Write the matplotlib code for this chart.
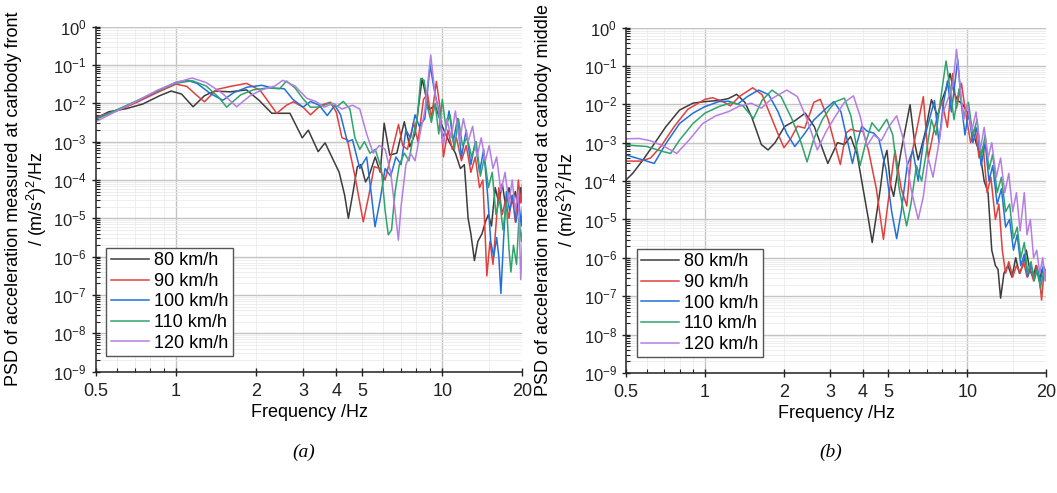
import numpy as np
import matplotlib
matplotlib.use("Agg")
import matplotlib.pyplot as plt
from matplotlib.ticker import FixedLocator, LogLocator, NullFormatter, FixedFormatter

plt.rcParams['font.family'] = ['Liberation Sans', 'DejaVu Sans']
plt.rcParams['mathtext.default'] = 'regular'

speeds = ['80 km/h', '90 km/h', '100 km/h', '110 km/h', '120 km/h']
colors = ['#3c3c3c', '#e0403e', '#2270d8', '#2fa36c', '#b57ee2']

# (frequency Hz, log10 PSD) -- carbody front
front_80 = [(0.5, -2.39), (0.56, -2.22), (0.65, -2.14), (0.75, -2.02), (0.87, -1.80), (0.96, -1.68),
            (1.05, -1.76), (1.16, -2.09), (1.28, -1.80), (1.4, -1.68), (1.6, -1.70), (1.84, -1.65),
            (2.05, -1.92), (2.29, -2.26), (2.68, -2.26), (2.98, -2.90), (3.14, -2.70), (3.42, -3.26),
            (3.63, -3.03), (4.1, -3.80), (4.3, -4.40), (4.44, -5.00), (4.6, -4.40), (4.8, -3.65),
            (4.95, -3.60), (5.15, -4.05), (5.3, -3.90), (5.6, -3.40), (5.85, -3.80), (6.05, -2.52),
            (6.35, -3.35), (6.75, -3.30), (7.2, -2.48), (7.55, -3.13), (7.9, -2.80), (8.4, -1.35),
            (8.9, -2.17), (9.4, -2.05), (10.0, -2.60), (10.6, -3.00), (11.2, -3.30), (11.7, -3.70),
            (12.1, -3.60), (12.5, -5.00), (12.8, -5.40), (13.2, -6.10), (13.6, -5.60), (14.1, -5.40),
            (14.5, -5.10), (14.9, -4.90), (15.3, -5.20), (15.8, -4.20), (16.3, -4.60), (16.8, -4.10),
            (17.3, -4.70), (17.8, -4.20), (18.3, -4.60), (18.8, -4.30), (19.3, -4.80), (19.7, -4.20),
            (20.0, -4.60)]
front_90 = [(0.5, -2.36), (0.6, -2.20), (0.71, -1.98), (0.85, -1.72), (1.0, -1.50), (1.1, -1.56),
            (1.2, -1.80), (1.28, -1.96), (1.42, -1.64), (1.6, -1.56), (1.84, -1.48), (2.07, -1.66),
            (2.39, -2.26), (2.6, -2.05), (2.76, -1.96), (3.0, -2.10), (3.2, -2.30), (3.5, -2.05),
            (3.8, -1.97), (4.0, -2.23), (4.2, -2.90), (4.4, -2.95), (4.7, -3.90), (5.05, -5.09),
            (5.3, -4.40), (5.55, -3.65), (5.8, -3.70), (6.1, -4.00), (6.4, -3.40), (6.85, -2.55),
            (7.1, -3.10), (7.4, -3.20), (7.8, -2.50), (8.1, -3.00), (8.5, -1.90), (8.8, -1.75),
            (9.1, -2.40), (9.5, -1.43), (9.8, -2.10), (10.1, -3.40), (10.5, -2.70), (10.9, -3.20),
            (11.3, -2.90), (11.8, -3.50), (12.3, -3.10), (12.8, -3.80), (13.3, -3.40), (13.8, -4.20),
            (14.2, -4.00), (14.7, -6.50), (15.1, -5.60), (15.5, -6.20), (15.9, -5.20), (16.3, -4.20),
            (16.8, -4.90), (17.3, -4.50), (17.8, -5.00), (18.3, -4.40), (18.8, -5.10), (19.3, -4.00),
            (19.7, -4.60), (20.0, -4.10)]
front_100 = [(0.5, -2.40), (0.6, -2.18), (0.72, -1.93), (0.85, -1.68), (1.0, -1.45), (1.1, -1.40),
             (1.2, -1.48), (1.35, -1.75), (1.5, -1.92), (1.65, -1.72), (1.85, -1.58), (2.1, -1.53),
             (2.3, -1.60), (2.55, -1.62), (2.75, -1.90), (3.0, -2.10), (3.2, -1.95), (3.45, -2.05),
             (3.7, -2.32), (3.95, -2.05), (4.15, -2.30), (4.4, -3.00), (4.6, -2.95), (4.9, -3.70),
             (5.2, -3.40), (5.4, -4.30), (5.59, -5.22), (5.85, -4.50), (6.1, -3.70), (6.4, -3.90),
             (6.7, -3.40), (7.0, -3.60), (7.3, -2.70), (7.6, -2.90), (7.9, -2.30), (8.2, -2.60),
             (8.6, -2.40), (9.0, -1.00), (9.3, -1.60), (9.7, -2.20), (10.0, -2.90), (10.3, -2.70),
             (10.6, -2.20), (11.0, -3.00), (11.4, -2.40), (11.8, -3.40), (12.3, -2.70), (12.8, -3.60),
             (13.3, -3.00), (13.8, -3.80), (14.3, -3.20), (14.8, -4.40), (15.2, -5.60), (15.6, -6.00),
             (16.0, -5.50), (16.3, -6.00), (16.6, -6.96), (17.0, -5.50), (17.4, -4.30), (17.9, -4.80),
             (18.4, -4.40), (18.9, -5.10), (19.4, -4.60), (19.8, -5.20), (20.0, -4.70)]
front_110 = [(0.5, -2.42), (0.6, -2.17), (0.72, -1.92), (0.85, -1.68), (1.0, -1.48), (1.15, -1.41),
             (1.3, -1.55), (1.45, -1.85), (1.55, -2.10), (1.75, -1.78), (1.95, -1.65), (2.2, -1.60),
             (2.45, -1.62), (2.6, -1.42), (2.8, -1.60), (3.0, -1.88), (3.2, -2.10), (3.45, -2.10),
             (3.75, -2.00), (4.0, -2.10), (4.25, -1.95), (4.5, -2.15), (4.7, -2.90), (4.9, -3.20),
             (5.1, -3.00), (5.35, -3.30), (5.6, -3.20), (5.9, -3.70), (6.1, -4.80), (6.27, -5.43),
             (6.45, -5.30), (6.65, -4.30), (6.9, -3.60), (7.2, -3.30), (7.5, -3.50), (7.8, -2.80),
             (8.05, -2.40), (8.3, -1.35), (8.55, -1.40), (8.8, -2.10), (9.1, -2.50), (9.4, -2.00),
             (9.7, -2.80), (10.0, -1.90), (10.3, -2.60), (10.7, -2.30), (11.1, -3.20), (11.5, -2.40),
             (11.9, -3.10), (12.4, -2.90), (12.9, -3.40), (13.4, -3.00), (13.9, -3.90), (14.4, -3.40),
             (14.9, -4.20), (15.4, -3.80), (15.9, -4.90), (16.4, -4.50), (16.9, -5.30), (17.4, -4.60),
             (17.8, -5.80), (18.1, -6.40), (18.5, -5.70), (19.0, -6.20), (19.4, -5.00), (19.8, -5.60),
             (20.0, -5.30)]
front_120 = [(0.5, -2.48), (0.6, -2.20), (0.72, -1.93), (0.85, -1.66), (1.0, -1.46), (1.15, -1.34),
             (1.3, -1.46), (1.5, -1.75), (1.69, -2.09), (1.9, -1.80), (2.1, -1.65), (2.35, -1.55),
             (2.52, -1.40), (2.8, -1.55), (3.1, -1.87), (3.35, -1.95), (3.6, -2.10), (3.9, -2.00),
             (4.2, -2.15), (4.6, -2.05), (4.9, -2.15), (5.2, -2.80), (5.5, -3.30), (5.8, -3.10),
             (6.1, -3.20), (6.4, -3.80), (6.65, -4.80), (6.84, -5.57), (7.0, -4.70), (7.3, -3.60),
             (7.6, -3.30), (7.9, -3.50), (8.3, -2.70), (8.6, -2.20), (9.05, -0.74), (9.4, -1.80),
             (9.8, -2.40), (10.1, -3.10), (10.4, -2.40), (10.8, -2.90), (11.2, -2.20), (11.6, -3.00),
             (12.0, -2.40), (12.5, -3.00), (13.0, -2.60), (13.5, -3.40), (14.0, -2.90), (14.5, -3.50),
             (15.0, -3.10), (15.5, -3.70), (16.0, -3.40), (16.6, -4.30), (17.2, -3.80), (17.8, -4.60),
             (18.3, -4.00), (18.8, -4.80), (19.3, -4.30), (19.7, -6.60), (20.0, -5.50)]

# carbody middle
middle_80 = [(0.5, -3.97), (0.53, -3.80), (0.58, -3.45), (0.63, -3.10), (0.71, -2.58), (0.8, -2.15),
             (0.9, -1.97), (1.0, -1.93), (1.13, -1.90), (1.23, -1.85), (1.32, -1.74), (1.42, -1.95),
             (1.51, -2.35), (1.64, -3.05), (1.74, -3.19), (1.85, -3.00), (2.01, -2.58), (2.2, -2.43),
             (2.41, -2.23), (2.61, -2.58), (2.94, -3.54), (3.2, -3.00), (3.4, -3.05), (3.59, -2.84),
             (3.8, -3.30), (4.03, -4.30), (4.2, -5.00), (4.34, -5.60), (4.5, -4.90), (4.66, -4.20),
             (4.8, -3.50), (4.94, -3.20), (5.1, -4.10), (5.24, -4.40), (5.6, -3.20), (6.05, -2.01),
             (6.3, -3.00), (6.5, -3.45), (6.9, -2.75), (7.3, -1.88), (7.7, -2.30), (8.0, -1.90),
             (8.3, -1.60), (8.6, -1.20), (8.9, -1.70), (9.2, -1.90), (9.6, -2.00), (10.0, -2.20),
             (10.4, -2.60), (10.8, -3.00), (11.2, -3.30), (11.6, -4.00), (12.0, -4.30), (12.4, -5.80),
             (12.8, -6.20), (13.1, -6.30), (13.4, -7.05), (13.8, -6.40), (14.3, -6.20), (14.8, -6.50),
             (15.3, -6.00), (15.8, -6.40), (16.3, -6.20), (16.8, -5.80), (17.3, -6.30), (17.8, -6.50),
             (18.3, -6.20), (18.8, -6.60), (19.3, -6.30), (19.7, -6.50), (20.0, -6.40)]
middle_90 = [(0.5, -3.48), (0.57, -3.48), (0.62, -3.40), (0.68, -3.09), (0.765, -2.57), (0.86, -2.13),
             (1.0, -1.87), (1.07, -1.83), (1.16, -1.92), (1.25, -2.04), (1.35, -1.80), (1.52, -1.57),
             (1.65, -1.75), (1.78, -2.30), (1.89, -2.74), (2.0, -3.13), (2.12, -2.90), (2.25, -2.57),
             (2.4, -2.62), (2.6, -1.95), (2.75, -1.87), (2.95, -2.40), (3.28, -3.57), (3.45, -2.75),
             (3.6, -2.65), (3.8, -2.70), (4.0, -2.70), (4.2, -3.20), (4.5, -4.20), (4.79, -5.52),
             (5.0, -4.50), (5.3, -3.20), (5.6, -4.20), (5.88, -4.65), (6.1, -3.40), (6.4, -2.70),
             (6.8, -1.80), (7.1, -3.40), (7.5, -2.60), (8.0, -1.93), (8.4, -2.60), (8.8, -1.20),
             (9.1, -2.10), (9.5, -1.45), (9.9, -2.30), (10.3, -3.00), (10.7, -2.60), (11.1, -3.40),
             (11.5, -3.10), (11.9, -4.30), (12.3, -3.90), (12.8, -5.00), (13.2, -4.60), (13.6, -5.80),
             (14.0, -6.40), (14.4, -6.10), (14.9, -6.50), (15.4, -6.20), (15.9, -6.40), (16.4, -6.10),
             (16.9, -6.50), (17.4, -6.30), (17.9, -6.60), (18.4, -6.20), (18.9, -6.60), (19.2, -7.10),
             (19.6, -6.40), (20.0, -6.50)]
middle_100 = [(0.5, -3.32), (0.58, -3.45), (0.64, -3.54), (0.71, -3.02), (0.8, -2.50), (0.9, -2.23),
              (1.0, -2.06), (1.13, -1.93), (1.23, -1.92), (1.33, -2.00), (1.45, -1.80), (1.6, -1.63),
              (1.75, -1.75), (1.9, -2.20), (2.05, -2.76), (2.2, -3.10), (2.4, -2.76), (2.6, -2.41),
              (2.85, -2.15), (3.1, -1.93), (3.3, -2.20), (3.65, -3.54), (3.8, -3.00), (3.96, -2.57),
              (4.15, -2.70), (4.4, -2.75), (4.6, -2.90), (4.9, -3.70), (5.15, -4.80), (5.38, -5.50),
              (5.6, -4.80), (5.9, -3.60), (6.2, -3.20), (6.5, -4.00), (6.8, -3.00), (7.1, -2.50),
              (7.5, -1.90), (7.8, -3.00), (8.1, -2.00), (8.4, -1.40), (8.7, -2.20), (9.2, -0.83),
              (9.5, -2.00), (9.8, -2.80), (10.1, -2.20), (10.5, -3.00), (10.9, -2.60), (11.3, -3.60),
              (11.7, -3.00), (12.1, -4.00), (12.5, -3.60), (13.0, -4.60), (13.5, -4.20), (14.0, -5.20),
              (14.5, -5.00), (15.0, -5.80), (15.5, -5.40), (16.0, -6.20), (16.5, -5.90), (17.0, -6.50),
              (17.5, -6.20), (18.0, -6.50), (18.5, -6.30), (19.0, -6.60), (19.5, -6.20), (20.0, -6.40)]
middle_110 = [(0.5, -3.06), (0.6, -3.10), (0.69, -3.23), (0.74, -3.28), (0.8, -2.93), (0.9, -2.50),
              (1.0, -2.23), (1.13, -2.06), (1.27, -1.95), (1.4, -2.05), (1.53, -2.37), (1.65, -1.90),
              (1.8, -1.63), (1.95, -1.80), (2.15, -2.40), (2.3, -2.90), (2.45, -3.50), (2.6, -2.90),
              (2.8, -2.40), (3.0, -2.10), (3.15, -1.93), (3.4, -1.84), (3.6, -2.30), (3.9, -3.60),
              (4.1, -3.00), (4.33, -2.48), (4.6, -2.70), (4.93, -2.39), (5.2, -2.80), (5.5, -4.20),
              (5.87, -5.17), (6.1, -4.60), (6.4, -3.60), (6.7, -4.00), (7.0, -3.20), (7.3, -2.40),
              (7.6, -2.80), (7.9, -1.90), (8.3, -0.87), (8.6, -1.60), (8.9, -2.40), (9.3, -1.60),
              (9.7, -2.30), (10.1, -1.95), (10.5, -2.80), (10.9, -2.40), (11.3, -3.40), (11.7, -2.80),
              (12.1, -3.70), (12.5, -3.30), (13.0, -4.30), (13.5, -3.90), (14.0, -4.80), (14.5, -4.60),
              (15.0, -5.50), (15.5, -5.20), (16.0, -6.00), (16.5, -5.60), (17.0, -6.40), (17.5, -6.10),
              (18.0, -6.60), (18.5, -6.30), (19.0, -6.80), (19.5, -6.40), (20.0, -6.60)]
middle_120 = [(0.5, -2.90), (0.56, -2.89), (0.62, -2.95), (0.7, -3.10), (0.78, -3.28), (0.87, -2.93),
              (0.98, -2.50), (1.1, -2.30), (1.23, -2.19), (1.35, -2.05), (1.5, -1.97), (1.64, -2.10),
              (1.8, -1.85), (2.05, -1.63), (2.25, -1.80), (2.45, -2.40), (2.68, -3.19), (2.9, -2.70),
              (3.15, -2.30), (3.4, -1.95), (3.68, -1.78), (3.9, -2.30), (4.14, -3.09), (4.4, -2.80),
              (4.7, -2.95), (5.0, -2.60), (5.38, -2.30), (5.7, -2.90), (6.1, -4.20), (6.5, -5.00),
              (6.8, -4.40), (7.1, -3.40), (7.4, -3.90), (7.8, -3.00), (8.1, -2.20), (8.5, -1.80),
              (8.8, -1.50), (9.1, -0.57), (9.4, -1.60), (9.7, -2.40), (10.0, -2.00), (10.4, -2.70),
              (10.8, -2.20), (11.2, -3.20), (11.6, -2.60), (12.0, -3.40), (12.4, -3.00), (12.9, -3.90),
              (13.4, -3.40), (13.9, -4.30), (14.4, -3.80), (14.9, -4.80), (15.4, -4.30), (15.9, -5.30),
              (16.5, -4.30), (16.9, -5.40), (17.4, -5.00), (17.9, -6.00), (18.4, -5.80), (18.9, -6.40),
              (19.4, -6.00), (19.8, -6.60), (20.0, -6.30)]

front = [front_80, front_90, front_100, front_110, front_120]
middle = [middle_80, middle_90, middle_100, middle_110, middle_120]

xticks = [0.5, 1, 2, 3, 4, 5, 10, 20]
xticklabels = ['0.5', '1', '2', '3', '4', '5', '10', '20']
ylabels = ['PSD of acceleration measured at carbody front\n/ (m/s$^2$)$^2$/Hz',
           'PSD of acceleration measured at carbody middle\n/ (m/s$^2$)$^2$/Hz']
captions = ['(a)', '(b)']

fig = plt.figure(figsize=(10.57, 4.93), dpi=100)
ax1 = fig.add_axes([0.0906, 0.246, 0.4037, 0.700])
ax2 = fig.add_axes([0.5923, 0.2434, 0.3975, 0.7008])

for ax, data, ylab, cap in zip([ax1, ax2], [front, middle], ylabels, captions):
    for ser, c, lab in zip(data, colors, speeds):
        arr = np.array(ser)
        ax.plot(arr[:, 0], 10 ** arr[:, 1], color=c, lw=1.1, label=lab)
    ax.set_xscale('log')
    ax.set_yscale('log')
    ax.set_xlim(0.5, 20)
    ax.set_ylim(1e-9, 1)
    ax.xaxis.set_major_locator(FixedLocator(xticks))
    ax.xaxis.set_major_formatter(FixedFormatter(xticklabels))
    ax.xaxis.set_minor_locator(FixedLocator([0.6, 0.7, 0.8, 0.9, 6, 7, 8, 9]))
    ax.xaxis.set_minor_formatter(NullFormatter())
    ax.yaxis.set_major_locator(LogLocator(base=10, numticks=12))
    ax.yaxis.set_minor_locator(LogLocator(base=10, subs=np.arange(2, 10), numticks=12))
    ax.yaxis.set_minor_formatter(NullFormatter())

    # light minor grid + darker decade lines
    for v in [0.6, 0.7, 0.8, 0.9, 2, 3, 4, 5, 6, 7, 8, 9, 15]:
        ax.axvline(v, color='#ebebeb', lw=0.6, zorder=0)
    for v in [1, 10]:
        ax.axvline(v, color='#c4c4c4', lw=1.0, zorder=0)
    ax.grid(True, which='minor', axis='y', color='#ebebeb', lw=0.6, zorder=0)
    ax.grid(True, which='major', axis='y', color='#c4c4c4', lw=1.0, zorder=0)
    ax.set_axisbelow(True)

    for s in ['top', 'right']:
        ax.spines[s].set_visible(False)
    for s in ['left', 'bottom']:
        ax.spines[s].set_linewidth(1.1)
        ax.spines[s].set_color('#222222')
    ax.tick_params(which='major', direction='inout', length=6, width=1.0, labelsize=12, colors='#222222')
    ax.tick_params(axis='x', which='major', labelsize=13, pad=5)
    ax.tick_params(which='minor', direction='in', length=3, width=0.8, colors='#222222')

    ax.set_xlabel('Frequency /Hz', fontsize=13, labelpad=3)
    ax.set_ylabel(ylab, fontsize=13, labelpad=3, linespacing=1.15)

    leg = ax.legend(loc='lower left', bbox_to_anchor=(0.025, 0.045), fontsize=13, frameon=True,
                    fancybox=False, edgecolor='#555555', framealpha=1, borderpad=0.25,
                    labelspacing=0.2, handlelength=2.1, handletextpad=0.3, borderaxespad=0)
    leg.get_frame().set_linewidth(1.0)

    pos = ax.get_position()
    fig.text((pos.x0 + pos.x1) / 2 - 0.005, 0.083, cap, ha='center', va='center', fontsize=14,
             family='Liberation Serif', style='italic')

fig.savefig('out.png', dpi=100)
